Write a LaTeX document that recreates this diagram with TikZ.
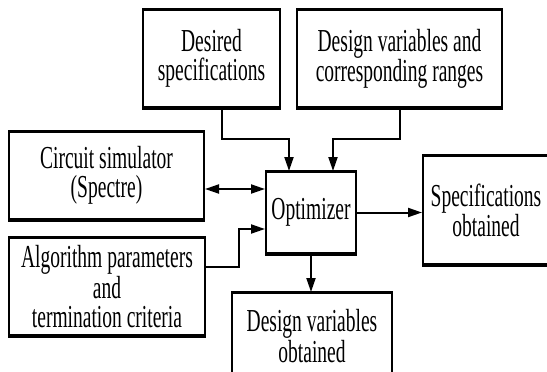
\documentclass[tikz,border=0pt]{standalone}
\usepackage{fontspec}
\setmainfont{Liberation Serif}[FakeStretch=0.61]
\usetikzlibrary{arrows.meta}

\begin{document}
\begin{tikzpicture}[x=1pt,y=-1pt,
  blk/.style={draw=black, line width=2pt, fill=white, inner sep=0pt, align=center,
    font=\fontsize{32}{29}\selectfont},
  hedge/.style={line width=3pt, line cap=butt},
  arr/.style={line width=2pt, -{Triangle[length=14pt,width=9pt]}},
  biarr/.style={line width=2pt, {Triangle[length=14pt,width=9pt]}-{Triangle[length=14pt,width=9pt]}}]
\useasboundingbox (0,0) rectangle (547,372);
\clip (0,0) rectangle (547,372);
\fill[white] (0,0) rectangle (547,372);

% blocks
\node[blk, minimum width=137pt, minimum height=97pt] (des) at (211.5,58.5)
  {Desired\\specifications};
\node[blk, minimum width=205pt, minimum height=97pt] (dvr) at (399.5,58.5)
  {Design variables and\\corresponding ranges};
\node[blk, minimum width=195pt, minimum height=87pt] (sim) at (106.5,175.5)
  {Circuit simulator\\(Spectre)};
\node[blk, minimum width=196pt, minimum height=97pt] (alg) at (107,286.5)
  {Algorithm parameters\\and\\termination criteria};
\node[blk, minimum width=90pt, minimum height=81pt] (opt) at (311,212.5)
  {Optimizer};
\node[blk, minimum width=126pt, minimum height=108pt] (spo) at (486,210)
  {Specifications\\obtained};
\node[blk, minimum width=160pt, minimum height=86pt] (dvo) at (312,336)
  {Design variables\\obtained};

% heavier horizontal edges
\foreach \n in {des,dvr,sim,alg,opt,spo,dvo}{
  \draw[hedge] (\n.north west) -- (\n.north east);
  \draw[hedge] (\n.south west) -- (\n.south east);
}

% connectors
\draw[arr] ([xshift=10.5pt]des.south) -- ++(0,31) -| ([xshift=-22pt]opt.north);
\draw[arr] (dvr.south) -- ++(0,31) -| ([xshift=22pt]opt.north);
\coordinate (simIn) at ([yshift=23.5pt]opt.west);
\draw[biarr] (simIn -| sim.east) -- (simIn);
\draw[arr] ([yshift=19.5pt]alg.east) -- ++(33,0) |- ([yshift=-16.5pt]opt.west);
\draw[arr] (opt.east) -- (opt.east -| spo.west);
\draw[arr] (opt.south) -- (opt.south |- dvo.north);
\end{tikzpicture}
\end{document}
